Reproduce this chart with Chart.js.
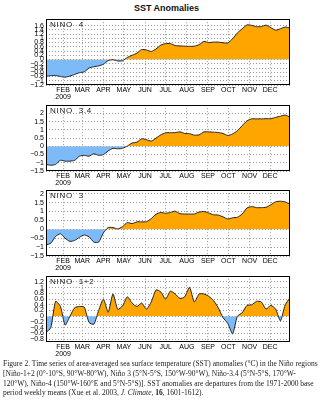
<!DOCTYPE html>
<html>
<head>
<meta charset="utf-8">
<script src="https://cdn.jsdelivr.net/npm/chart.js@4.4.1/dist/chart.umd.min.js"></script>
<style>
  body { margin: 0; background: #fff; width: 333px; height: 400px; position: relative; overflow: hidden; font-family: "Liberation Sans", Arial, sans-serif; }
  canvas { position: absolute; left: 0; }
  .title { position: absolute; top: 3px; left: 0; width: 333px; text-align: center; font-size: 9px; font-weight: bold; color: #111; }
  .panel-name { position: absolute; left: 50px; font-size: 8px; letter-spacing: 0.7px; white-space: pre; color: #222; }
  .caption { position: absolute; left: 3px; top: 359px; font-family: "Liberation Serif", "Times New Roman", serif; font-size: 7.5px; line-height: 9.8px; white-space: nowrap; color: #222; }
</style>
</head>
<body>
<div class="title">SST Anomalies</div>

<canvas id="c4" width="333" height="90" style="top:13px"></canvas>
<canvas id="c34" width="333" height="90" style="top:99px"></canvas>
<canvas id="c3" width="333" height="90" style="top:184px"></canvas>
<canvas id="c12" width="333" height="90" style="top:270px"></canvas>

<div class="panel-name" style="top:20px">NINO  4</div>
<div class="panel-name" style="top:106px">NINO  3.4</div>
<div class="panel-name" style="top:191px">NINO  3</div>
<div class="panel-name" style="top:277px">NINO  1+2</div>

<div class="caption">
Figure 2. Time series of area-averaged sea surface temperature (SST) anomalies (°C) in the Niño regions<br>
[Niño-1+2 (0°-10°S, 90°W-80°W), Niño 3 (5°N-5°S, 150°W-90°W), Niño-3.4 (5°N-5°S, 170°W-<br>
120°W), Niño-4 (150°W-160°E and 5°N-5°S)]. SST anomalies are departures from the 1971-2000 base<br>
period weekly means (Xue et al. 2003, <i>J. Climate</i>, <b>16</b>, 1601-1612).
</div>

<script>
// weekly values, first week centred on 7 Jan 2009 (day 6 of the year)
const firstWeekDay = 6;
const monthDays = [31, 59, 90, 120, 151, 181, 212, 243, 273, 304, 334];
const monthLabels = [['FEB', '2009'], 'MAR', 'APR', 'MAY', 'JUN', 'JUL', 'AUG', 'SEP', 'OCT', 'NOV', 'DEC'];

const nino4 = [-0.79, -0.76, -0.75, -0.8, -0.83, -0.78, -0.7, -0.62, -0.58, -0.4, -0.34, -0.3, -0.22,
  -0.05, -0.01, -0.07, -0.06, 0.1, 0.2, 0.3, 0.47, 0.45, 0.38, 0.5, 0.68, 0.75, 0.75, 0.66, 0.64, 0.63,
  0.62, 0.63, 0.7, 0.85, 0.8, 0.82, 0.82, 0.79, 0.78, 0.98, 1.25, 1.45, 1.63, 1.61, 1.55, 1.55, 1.62,
  1.5, 1.38, 1.45, 1.53, 1.48];
const nino34 = [-1.1, -1.15, -1.1, -0.85, -0.9, -0.9, -0.85, -0.6, -0.55, -0.6, -0.45, -0.55, -0.5,
  -0.28, -0.12, -0.15, -0.12, 0.02, 0.2, 0.25, 0.46, 0.4, 0.32, 0.5, 0.7, 0.82, 0.83, 0.83, 0.88, 0.78,
  0.77, 0.68, 0.7, 0.88, 0.88, 0.86, 0.84, 0.78, 0.66, 0.75, 0.95, 1.25, 1.55, 1.67, 1.67, 1.67, 1.68,
  1.68, 1.76, 1.83, 1.9, 1.78];
const nino3 = [-0.88, -0.78, -0.4, -0.25, -0.5, -0.68, -0.62, -0.45, -0.32, -0.42, -0.72, -0.72, -0.2,
  0.1, 0.1, 0.02, 0.15, 0.38, 0.32, 0.42, 0.42, 0.43, 0.6, 0.85, 0.95, 0.9, 0.95, 1.02, 0.88, 0.86,
  0.86, 0.86, 0.97, 1.0, 0.92, 0.82, 0.8, 0.7, 0.58, 0.65, 0.68, 0.86, 1.2, 1.28, 1.22, 1.22, 1.24,
  1.38, 1.55, 1.58, 1.54, 1.42];
const nino12 = [-0.57, -0.4, 0.52, 0.35, -0.31, 0.0, 0.3, 0.34, 0.32, -0.22, -0.28, 0.2, 0.6,
  0.14, 0.78, 0.24, 0.36, 0.68, 0.46, 0.34, 0.46, 0.25, 0.5, 0.92, 0.85, 0.6, 0.88, 0.78, 0.62, 0.68,
  1.01, 0.5, 0.78, 0.78, 0.7, 0.55, 0.3, -0.05, -0.25, -0.62, 0.0, 0.12, 0.38, 0.4, 0.52, 0.5, 0.25,
  0.38, 0.25, -0.16, 0.4, 0.65];

const ticks4 = [-1.2, -1, -0.8, -0.6, -0.4, -0.2, 0, 0.2, 0.4, 0.6, 0.8, 1, 1.2, 1.4, 1.6];
const ticks34 = [-1.5, -1, -0.5, 0, 0.5, 1, 1.5, 2];
const ticks3 = [-1.5, -1, -0.5, 0, 0.5, 1, 1.5, 2];
const ticks12 = [-0.8, -0.6, -0.4, -0.2, 0, 0.2, 0.4, 0.6, 0.8, 1, 1.2];

const weekDays = nino4.map((_, i) => firstWeekDay + 7 * i);

const boxPlugin = {
  id: 'box',
  afterDraw(chart) {
    const { ctx, chartArea: a } = chart;
    ctx.save();
    ctx.strokeStyle = '#000';
    ctx.lineWidth = 1;
    ctx.strokeRect(Math.round(a.left) + 0.5, Math.round(a.top) + 0.5, Math.round(a.width) - 1, Math.round(a.height) - 1);
    ctx.restore();
  }
};

const fmt = (v) => (v < 0 ? '\u2212' : '') + Math.abs(v);

function makeChart(id, values, yMin, yMax, yTicks) {
  new Chart(document.getElementById(id), {
    type: 'line',
    plugins: [boxPlugin],
    data: {
      datasets: [{
        data: values.map((v, i) => ({ x: weekDays[i], y: v })),
        borderColor: '#222',
        borderWidth: 1,
        pointRadius: 0,
        tension: 0.2,
        fill: { target: 'origin', above: '#FFA500', below: '#7DBBF8' },
      }],
    },
    options: {
      responsive: false,
      animation: false,
      layout: { padding: { top: 4, right: 43, left: 0, bottom: 0 } },
      plugins: { legend: { display: false }, tooltip: { enabled: false } },
      scales: {
        x: {
          type: 'linear',
          min: 6,
          max: 363,
          afterBuildTicks: (s) => { s.ticks = monthDays.map((v) => ({ value: v })); },
          afterFit: (s) => { s.height = 18; },
          ticks: {
            autoSkip: false, maxRotation: 0, padding: 2, color: '#000',
            font: { family: 'Liberation Sans', size: 7, lineHeight: 0.95 },
            callback: (v, i) => monthLabels[i],
          },
          grid: { color: '#999', drawTicks: false },
          border: { display: false, dash: [1, 2] },
        },
        y: {
          min: yMin,
          max: yMax,
          afterBuildTicks: (s) => { s.ticks = yTicks.map((v) => ({ value: v })); },
          afterFit: (s) => { s.width = 46; },
          ticks: {
            autoSkip: false, padding: 2, color: '#000',
            font: { family: 'Liberation Sans', size: 7 },
            callback: (v) => fmt(v),
          },
          grid: { color: '#999', drawTicks: false },
          border: { display: false, dash: [1, 2] },
        },
      },
    },
  });
}

makeChart('c4', nino4, -1.2, 1.9, ticks4);
makeChart('c34', nino34, -1.5, 2.5, ticks34);
makeChart('c3', nino3, -1.5, 2.2, ticks3);
makeChart('c12', nino12, -0.9, 1.4, ticks12);
</script>
</body>
</html>
